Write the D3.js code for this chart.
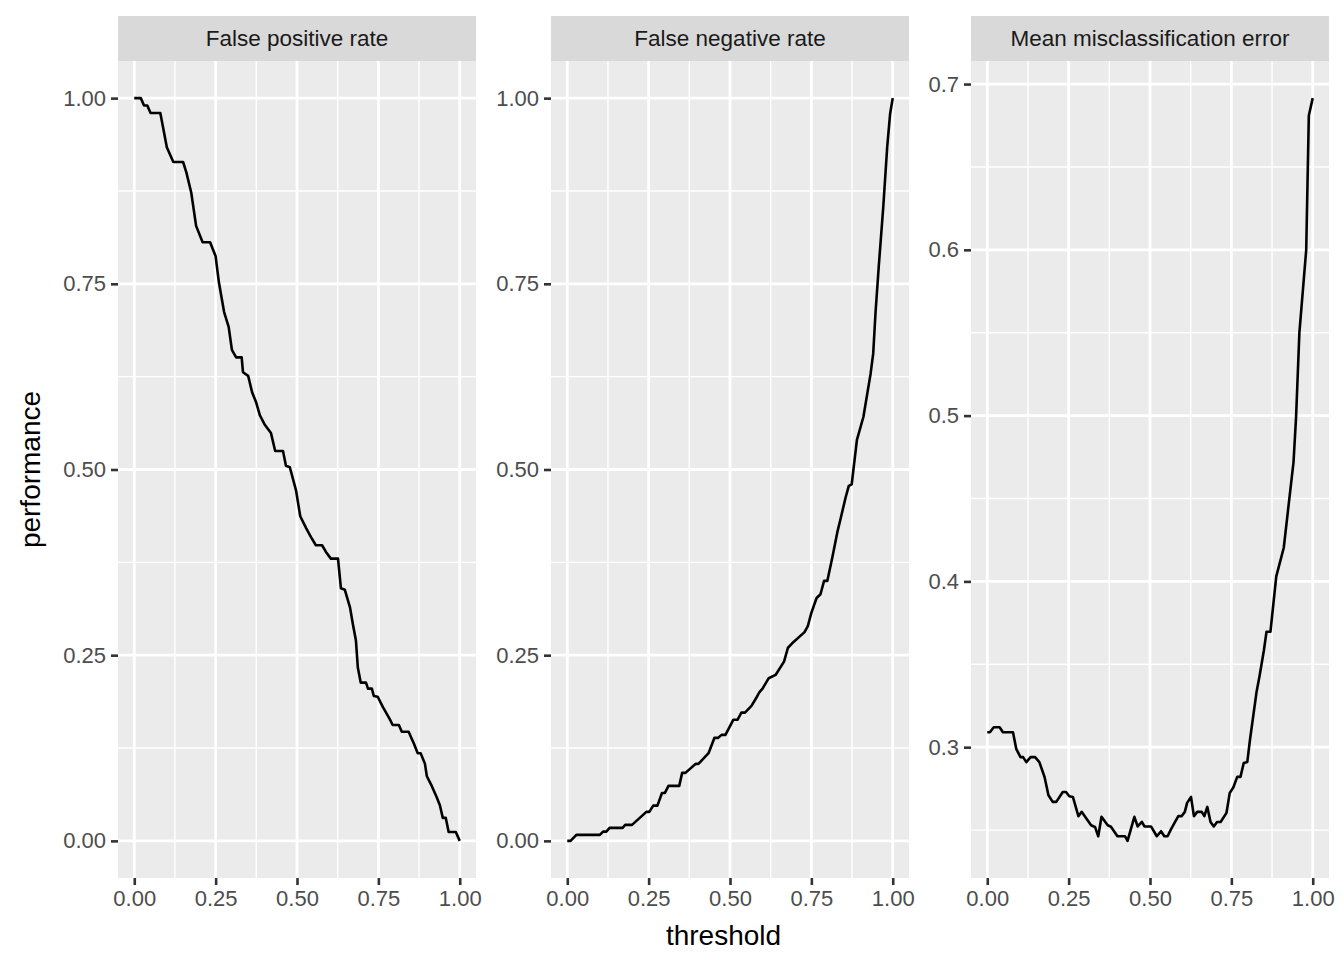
<!DOCTYPE html>
<html><head><meta charset="utf-8">
<script src="https://cdn.jsdelivr.net/npm/d3@7"></script>
<style>body{margin:0;background:#fff} text{font-family:"Liberation Sans",Arial,Helvetica,sans-serif}</style>
</head><body><svg id="chart" width="1344" height="960"></svg>
<script>
// ---------- data ----------
const panelTitles = ["False positive rate", "False negative rate", "Mean misclassification error"];
const xTickValues = [0, 0.25, 0.5, 0.75, 1];
const xTickLabels = ["0.00", "0.25", "0.50", "0.75", "1.00"];
const rateTickValues = [0, 0.25, 0.5, 0.75, 1];
const rateTickLabels = ["0.00", "0.25", "0.50", "0.75", "1.00"];
const mmeTickValues = [0.3, 0.4, 0.5, 0.6, 0.7];
const mmeTickLabels = ["0.3", "0.4", "0.5", "0.6", "0.7"];
const xTitle = "threshold";
const yTitle = "performance";

const fprThreshold = [0,0.02,0.03,0.04,0.05,0.08,0.09,0.10,0.12,0.15,0.16,0.175,0.19,0.21,0.233,0.25,0.26,0.276,0.29,0.30,0.313,0.33,0.334,0.35,0.362,0.374,0.386,0.40,0.42,0.433,0.457,0.466,0.478,0.497,0.51,0.528,0.543,0.558,0.577,0.589,0.604,0.626,0.635,0.647,0.663,0.672,0.681,0.687,0.696,0.712,0.718,0.73,0.736,0.748,0.764,0.785,0.794,0.813,0.822,0.843,0.859,0.871,0.880,0.893,0.899,0.914,0.929,0.939,0.948,0.957,0.966,0.988,1.0];
const fprValue = [1.0,1.0,0.99,0.99,0.98,0.98,0.957,0.934,0.914,0.914,0.90,0.873,0.828,0.806,0.806,0.787,0.752,0.712,0.692,0.661,0.651,0.651,0.631,0.626,0.604,0.591,0.573,0.561,0.549,0.525,0.525,0.505,0.503,0.472,0.437,0.421,0.409,0.398,0.398,0.389,0.380,0.380,0.340,0.338,0.314,0.291,0.270,0.233,0.213,0.213,0.205,0.205,0.195,0.194,0.180,0.164,0.156,0.156,0.147,0.147,0.131,0.118,0.118,0.104,0.087,0.074,0.059,0.048,0.031,0.031,0.012,0.012,0.0];

const fnrThreshold = [0,0.01,0.028,0.10,0.11,0.12,0.13,0.17,0.178,0.199,0.243,0.252,0.264,0.277,0.291,0.30,0.311,0.344,0.353,0.363,0.394,0.403,0.434,0.452,0.463,0.474,0.486,0.51,0.523,0.535,0.546,0.566,0.58,0.59,0.60,0.619,0.64,0.666,0.678,0.691,0.729,0.739,0.75,0.766,0.778,0.789,0.799,0.815,0.83,0.84,0.855,0.865,0.874,0.89,0.91,0.932,0.94,0.947,0.957,0.971,0.983,0.992,1.0];
const fnrValue = [0,0,0.008,0.008,0.0125,0.0125,0.0175,0.0175,0.0215,0.0215,0.039,0.039,0.0475,0.0475,0.0645,0.0645,0.074,0.074,0.0915,0.0915,0.1036,0.1036,0.118,0.1386,0.1386,0.1427,0.1427,0.163,0.163,0.1727,0.1727,0.1817,0.192,0.200,0.205,0.219,0.2234,0.2413,0.260,0.266,0.281,0.289,0.307,0.327,0.332,0.35,0.35,0.383,0.416,0.434,0.462,0.478,0.48,0.54,0.571,0.629,0.656,0.71,0.773,0.854,0.934,0.979,1.0];

const mmeThreshold = [0,0.008,0.02,0.038,0.048,0.079,0.089,0.102,0.11,0.12,0.133,0.147,0.16,0.176,0.188,0.201,0.212,0.232,0.242,0.252,0.263,0.28,0.29,0.319,0.331,0.341,0.351,0.37,0.38,0.40,0.423,0.431,0.452,0.462,0.475,0.483,0.503,0.521,0.534,0.544,0.554,0.564,0.577,0.587,0.597,0.607,0.614,0.626,0.635,0.645,0.659,0.667,0.676,0.686,0.696,0.706,0.717,0.735,0.745,0.756,0.768,0.778,0.788,0.799,0.807,0.827,0.837,0.85,0.858,0.87,0.888,0.911,0.929,0.941,0.949,0.959,0.98,0.988,1.0];
const mmeValue = [0.309,0.309,0.312,0.312,0.309,0.309,0.299,0.294,0.294,0.291,0.294,0.294,0.291,0.282,0.271,0.267,0.267,0.273,0.273,0.2704,0.270,0.2584,0.261,0.2529,0.2519,0.2463,0.258,0.2529,0.252,0.2463,0.2463,0.2435,0.258,0.2522,0.255,0.2522,0.2522,0.2463,0.2493,0.2463,0.2463,0.2503,0.2549,0.2584,0.2584,0.261,0.2664,0.270,0.2584,0.261,0.261,0.2584,0.264,0.2549,0.2522,0.2549,0.2549,0.2604,0.2724,0.2757,0.2821,0.2821,0.2905,0.2911,0.3042,0.3328,0.3434,0.3585,0.3696,0.3696,0.403,0.4203,0.4514,0.472,0.4997,0.55,0.60,0.681,0.6915];

// ---------- layout ----------
const svg = d3.select("#chart");
const plotTop = 61, plotBottom = 878, stripTop = 16;
const panelX = [[118, 476], [551, 909], [971, 1329]];
const font = '"Liberation Sans",Arial,Helvetica,sans-serif';

const series = [
  {t: fprThreshold, v: fprValue, ticks: rateTickValues, labels: rateTickLabels},
  {t: fnrThreshold, v: fnrValue, ticks: rateTickValues, labels: rateTickLabels},
  {t: mmeThreshold, v: mmeValue, ticks: mmeTickValues, labels: mmeTickLabels}
];

function expand(ext) { const d = (ext[1] - ext[0]) * 0.05; return [ext[0] - d, ext[1] + d]; }
function minorBreaks(ticks, domain) {
  const step = ticks[1] - ticks[0];
  const out = [];
  for (let i = -1; i < ticks.length; i++) {
    const m = ticks[0] + step * (i + 0.5);
    if (m >= domain[0] && m <= domain[1]) out.push(m);
  }
  return out;
}

series.forEach((s, i) => {
  const [x0, x1] = panelX[i];
  const xDom = expand(d3.extent(s.t));
  const yDom = expand(d3.extent(s.v));
  const x = d3.scaleLinear().domain(xDom).range([x0, x1]);
  const y = d3.scaleLinear().domain(yDom).range([plotBottom, plotTop]);
  const g = svg.append("g");

  g.append("rect").attr("x", x0).attr("y", plotTop).attr("width", x1 - x0).attr("height", plotBottom - plotTop).attr("fill", "#EBEBEB");

  // minor grid
  minorBreaks(xTickValues, xDom).forEach(m => g.append("line").attr("x1", x(m)).attr("x2", x(m)).attr("y1", plotTop).attr("y2", plotBottom).attr("stroke", "#fff").attr("stroke-width", 1.4));
  minorBreaks(s.ticks, yDom).forEach(m => g.append("line").attr("x1", x0).attr("x2", x1).attr("y1", y(m)).attr("y2", y(m)).attr("stroke", "#fff").attr("stroke-width", 1.4));
  // major grid
  xTickValues.forEach(m => g.append("line").attr("x1", x(m)).attr("x2", x(m)).attr("y1", plotTop).attr("y2", plotBottom).attr("stroke", "#fff").attr("stroke-width", 2.8));
  s.ticks.forEach(m => g.append("line").attr("x1", x0).attr("x2", x1).attr("y1", y(m)).attr("y2", y(m)).attr("stroke", "#fff").attr("stroke-width", 2.8));

  // line
  const pts = s.t.map((t, k) => [t, s.v[k]]);
  g.append("path").datum(pts)
    .attr("d", d3.line().x(d => x(d[0])).y(d => y(d[1])))
    .attr("fill", "none").attr("stroke", "#000").attr("stroke-width", 2.6).attr("stroke-linejoin", "round");

  // strip
  g.append("rect").attr("x", x0).attr("y", stripTop).attr("width", x1 - x0).attr("height", plotTop - stripTop).attr("fill", "#D9D9D9");
  g.append("text").attr("x", (x0 + x1) / 2).attr("y", (stripTop + plotTop) / 2).attr("dy", "0.35em")
    .attr("text-anchor", "middle").attr("font-size", 22.5).attr("fill", "#1A1A1A").text(panelTitles[i]);

  // x axis
  const xAxis = d3.axisBottom(x).tickValues(xTickValues).tickFormat((d, k) => xTickLabels[k]).tickSize(7).tickPadding(5);
  const xa = g.append("g").attr("transform", `translate(0,${plotBottom})`).call(xAxis);
  xa.select(".domain").remove();
  xa.selectAll(".tick line").attr("stroke", "#333333").attr("stroke-width", 2.6);
  xa.selectAll(".tick text").attr("fill", "#4D4D4D").attr("font-size", 22).attr("font-family", font);

  // y axis
  const yAxis = d3.axisLeft(y).tickValues(s.ticks).tickFormat((d, k) => s.labels[k]).tickSize(7).tickPadding(5);
  const ya = g.append("g").attr("transform", `translate(${x0},0)`).call(yAxis);
  ya.select(".domain").remove();
  ya.selectAll(".tick line").attr("stroke", "#333333").attr("stroke-width", 2.6);
  ya.selectAll(".tick text").attr("fill", "#4D4D4D").attr("font-size", 22).attr("font-family", font);
});

svg.append("text").attr("x", (panelX[0][0] + panelX[2][1]) / 2).attr("y", 945)
  .attr("text-anchor", "middle").attr("font-size", 28).attr("fill", "#000").text(xTitle);
svg.append("text").attr("transform", `translate(40,${(plotTop + plotBottom) / 2}) rotate(-90)`)
  .attr("text-anchor", "middle").attr("font-size", 28).attr("fill", "#000").text(yTitle);
</script></body></html>
